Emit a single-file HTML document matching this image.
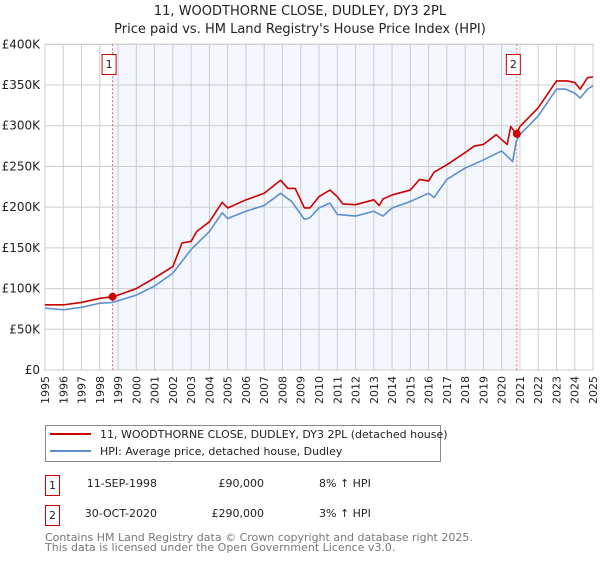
<!DOCTYPE html>
<html><head><meta charset="utf-8"><style>
body{margin:0;background:#fff;font-family:"DejaVu Sans","Liberation Sans",sans-serif;}
svg text{font-family:"DejaVu Sans","Liberation Sans",sans-serif;}
</style></head><body>
<svg id="c" width="600" height="560" viewBox="0 0 600 560" xmlns="http://www.w3.org/2000/svg">
<text x="300" y="15" text-anchor="middle" font-size="13" fill="#222">11, WOODTHORNE CLOSE, DUDLEY, DY3 2PL</text>
<text x="300" y="33" text-anchor="middle" font-size="13" fill="#222">Price paid vs. HM Land Registry's House Price Index (HPI)</text>
<g id="plot"></g>
<g>
<rect x="45.5" y="425.5" width="395" height="36" fill="#fff" stroke="#888"/>
<line x1="50" y1="434" x2="91" y2="434" stroke="#cc0000" stroke-width="2"/>
<text x="100" y="438" font-size="11" fill="#222">11, WOODTHORNE CLOSE, DUDLEY, DY3 2PL (detached house)</text>
<line x1="50" y1="451" x2="91" y2="451" stroke="#5b8fd0" stroke-width="2"/>
<text x="100" y="455" font-size="11" fill="#222">HPI: Average price, detached house, Dudley</text>
</g>
<g font-size="11" fill="#222">
<rect x="45.5" y="475.5" width="14" height="20" fill="#fff" stroke="#cc0000"/>
<text x="52.5" y="489" text-anchor="middle">1</text>
<text x="157" y="487" text-anchor="end">11-SEP-1998</text>
<text x="264" y="487" text-anchor="end">£90,000</text>
<text x="319" y="487">8% ↑ HPI</text>
<rect x="45.5" y="505.5" width="14" height="20" fill="#fff" stroke="#cc0000"/>
<text x="52.5" y="519" text-anchor="middle">2</text>
<text x="157" y="517" text-anchor="end">30-OCT-2020</text>
<text x="264" y="517" text-anchor="end">£290,000</text>
<text x="319" y="517">3% ↑ HPI</text>
</g>
<text x="45" y="541" font-size="11" fill="#777">Contains HM Land Registry data © Crown copyright and database right 2025.</text>
<text x="45" y="551" font-size="11" fill="#777">This data is licensed under the Open Government Licence v3.0.</text>
</svg>
<script>
const yTicks=[0,50,100,150,200,250,300,350,400];
const yTickLabels=["£0","£50K","£100K","£150K","£200K","£250K","£300K","£350K","£400K"];
const xTicks=[1995,1996,1997,1998,1999,2000,2001,2002,2003,2004,2005,2006,2007,2008,2009,2010,2011,2012,2013,2014,2015,2016,2017,2018,2019,2020,2021,2022,2023,2024,2025];
const hpiYears=[1995,1996,1997,1998,1998.7,1999,2000,2001,2002,2003,2004,2004.7,2005,2006,2007,2007.9,2008.5,2009.2,2009.5,2010,2010.6,2011,2012,2013,2013.5,2014,2015,2016,2016.3,2017,2018,2019,2020,2020.6,2020.8,2021,2022,2023,2023.5,2024,2024.3,2024.7,2025];
const hpiValues=[76,74,77,82,83,85,92,103,119,148,170,193,186,195,202,217,207,185,187,199,205,191,189,195,189,199,207,217,212,234,248,258,269,256,281,289,312,345,345,340,334,345,349];
const priceYears=[1995,1996,1997,1998,1998.7,1999,2000,2001,2002,2002.5,2003,2003.3,2004,2004.7,2005,2006,2007,2007.9,2008.3,2008.7,2009.2,2009.5,2010,2010.6,2011,2011.3,2012,2013,2013.3,2013.5,2014,2015,2015.5,2016,2016.3,2017,2018,2018.5,2019,2019.7,2020.3,2020.5,2020.8,2021,2022,2023,2023.6,2024,2024.3,2024.7,2025];
const priceValues=[80,80,83,88,90,92,100,113,127,156,158,170,182,206,199,209,217,233,223,223,199,199,213,221,213,204,203,209,202,210,215,221,234,232,243,252,267,275,277,289,277,299,290,299,322,355,355,353,345,359,360];
const saleYears=[1998.7,2020.83];
const salePrices=[90,290];
const saleLabels=["1","2"];
const X0=45,X1=593,Y0=370,Y1=44.3;
const x=y=>X0+(y-1995)/(2025-1995)*(X1-X0);
const yv=v=>Y0-v/400*(Y0-Y1);
const NS="http://www.w3.org/2000/svg";
const g=document.getElementById('plot');
function mk(t,a,p){const e=document.createElementNS(NS,t);for(const k in a)e.setAttribute(k,a[k]);(p||g).appendChild(e);return e;}
mk('rect',{x:X0,y:Y1,width:X1-X0,height:Y0-Y1,fill:'#fff'});
const sh=mk('rect',{x:x(saleYears[0]),y:Y1,width:x(saleYears[1])-x(saleYears[0]),height:Y0-Y1,fill:'#eef3fc',opacity:0.7});


xTicks.forEach(t=>{
 const l=mk('line',{x1:x(t),x2:x(t),y1:Y1,y2:Y0,stroke:'#ccc'});
 
 
 const tx=mk('text',{x:0,y:0,'font-size':11,fill:'#222','text-anchor':'end',transform:`translate(${x(t)+4},${Y0+6}) rotate(-90)`});
 tx.textContent=t;
 
 
});
yTicks.forEach((t,i)=>{
 const l=mk('line',{x1:X0,x2:X1,y1:yv(t),y2:yv(t),stroke:'#ccc'});
 
 
 const tx=mk('text',{x:X0-5,y:yv(t)+4,'font-size':12,fill:'#222','text-anchor':'end'});
 tx.textContent=yTickLabels[i];
 
 
});
mk('rect',{x:X0,y:Y1,width:X1-X0,height:Y0-Y1,fill:'none',stroke:'#ccc'});
saleYears.forEach((s,i)=>{
 const l=mk('line',{x1:x(s),x2:x(s),y1:Y1,y2:Y0,stroke:'#f06060','stroke-dasharray':'2,2'});
 
 
 const b=mk('rect',{x:x(s)-10.5,y:54.5,width:14,height:20,fill:'#fff',stroke:'#cc0000'});
 
 
 const t=mk('text',{x:x(s)-3.5,y:68,'font-size':11,'text-anchor':'middle',fill:'#222'});
 t.textContent=saleLabels[i];
});
const line=(xs,vs,c,n)=>{const p=mk('polyline',{points:xs.map((a,i)=>x(a)+','+yv(vs[i])).join(' '),fill:'none',stroke:c,'stroke-width':1.6,'stroke-linejoin':'round'});
 
 };
line(hpiYears,hpiValues,'#5b8fd0','hpi-line');
line(priceYears,priceValues,'#cc0000','price-line');
saleYears.forEach((s,i)=>{const c=mk('circle',{cx:x(s),cy:yv(salePrices[i]),r:4,fill:'#cc0000'});
 
 });
</script>
</body></html>
